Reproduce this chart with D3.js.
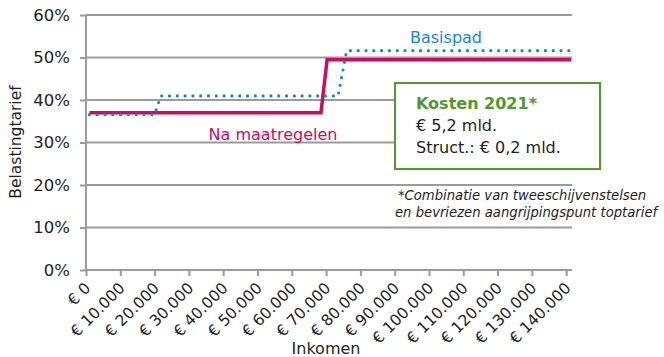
<!DOCTYPE html>
<html>
<head>
<meta charset="utf-8">
<script src="https://cdn.jsdelivr.net/npm/d3@7"></script>
<style>
  html, body { margin: 0; padding: 0; background: #fff; }
  svg { display: block; font-family: "DejaVu Sans", Verdana, sans-serif; }
</style>
</head>
<body>
<svg id="chart" width="664" height="357"></svg>
<script>
// Income ticks (euro) and rate ticks
const incomeTicks = [0, 10000, 20000, 30000, 40000, 50000, 60000, 70000, 80000, 90000, 100000, 110000, 120000, 130000, 140000];
const rateTicks = [0, 0.1, 0.2, 0.3, 0.4, 0.5, 0.6];

// Tax rate by income: after measures
const naMaatregelenIncome = [1000, 68500, 70300, 141500];
const naMaatregelenRate   = [0.37, 0.37, 0.495, 0.495];

// Tax rate by income: baseline path
const basispadIncome = [1000, 20000, 21800, 73500, 76000, 141500];
const basispadRate   = [0.3655, 0.3655, 0.4095, 0.4095, 0.516, 0.516];

const boxLines = ["Kosten 2021*", "€ 5,2 mld.", "Struct.: € 0,2 mld."];
const noteLines = ["*Combinatie van tweeschijvenstelsen", "en bevriezen aangrijpingspunt toptarief"];

const svg = d3.select("#chart");
const grey = "#9b9b9b";
const magenta = "#cc0a64";
const blue = "#1187d6";
const green = "#4f9a2a";
const ink = "#1e1e1e";

const x = d3.scaleLinear().domain([0, 141700]).range([86, 572]);
const y = d3.scaleLinear().domain([0, 0.6]).range([270, 15]);

// horizontal gridlines
svg.append("g").selectAll("line").data(rateTicks.filter(d => d > 0)).join("line")
  .attr("x1", x(0)).attr("x2", x.range()[1])
  .attr("y1", d => y(d)).attr("y2", d => y(d))
  .attr("stroke", grey).attr("stroke-width", 2);

// y axis
const yAxis = svg.append("g").attr("transform", `translate(${x(0)},0)`)
  .call(d3.axisLeft(y).tickValues(rateTicks).tickFormat(d3.format(".0%")).tickSize(6).tickPadding(10));
yAxis.select(".domain").attr("stroke", grey).attr("stroke-width", 2).attr("d", `M0,${y(0)}V${y(0.6)}`);
yAxis.selectAll(".tick line").attr("stroke", grey).attr("stroke-width", 2);
yAxis.selectAll(".tick text").attr("font-size", 16.5).attr("fill", ink)
  .attr("font-family", "DejaVu Sans, Verdana, sans-serif");

// x axis
const xAxis = svg.append("g").attr("transform", `translate(0,${y(0)})`)
  .call(d3.axisBottom(x).tickValues(incomeTicks).tickSize(6)
    .tickFormat(d => "€ " + d3.format(",")(d).replace(/,/g, ".")));
xAxis.select(".domain").attr("stroke", grey).attr("stroke-width", 2).attr("d", `M${x(0)},0H${x.range()[1]}`);
xAxis.selectAll(".tick line").attr("stroke", grey).attr("stroke-width", 2);
xAxis.selectAll(".tick text")
  .attr("font-size", 15.5).attr("fill", ink)
  .attr("font-family", "DejaVu Sans, Verdana, sans-serif")
  .attr("text-anchor", "end")
  .attr("dy", null).attr("y", 0)
  .attr("transform", "translate(5,19) rotate(-45)");

// axis titles
svg.append("text").attr("transform", "translate(21,142) rotate(-90)")
  .attr("text-anchor", "middle").attr("font-size", 15.5).attr("fill", ink).text("Belastingtarief");
svg.append("text").attr("x", 326).attr("y", 354)
  .attr("text-anchor", "middle").attr("font-size", 16).attr("fill", ink).text("Inkomen");

// series lines
const line = d3.line().x(d => x(d[0])).y(d => y(d[1]));
svg.append("path").datum(d3.zip(naMaatregelenIncome, naMaatregelenRate))
  .attr("d", line).attr("fill", "none").attr("stroke", magenta).attr("stroke-width", 3.5);
svg.append("path").datum(d3.zip(basispadIncome, basispadRate))
  .attr("d", line).attr("fill", "none").attr("stroke", blue).attr("stroke-width", 3.2)
  .attr("stroke-linecap", "round").attr("stroke-dasharray", "0 7.8");

// series labels
svg.append("text").attr("x", 446).attr("y", 43).attr("text-anchor", "middle")
  .attr("font-size", 16).attr("fill", blue).text("Basispad");
svg.append("text").attr("x", 273).attr("y", 140).attr("text-anchor", "middle")
  .attr("font-size", 16).attr("fill", magenta).text("Na maatregelen");

// cost box
svg.append("rect").attr("x", 395).attr("y", 83).attr("width", 205).attr("height", 86)
  .attr("fill", "#fff").attr("stroke", green).attr("stroke-width", 2);
svg.append("g").selectAll("text").data(boxLines).join("text")
  .attr("x", 416).attr("y", (d, i) => 109 + i * 22)
  .attr("font-size", 16)
  .attr("font-weight", (d, i) => i === 0 ? "bold" : "normal")
  .attr("fill", (d, i) => i === 0 ? green : ink)
  .text(d => d);

// footnote
svg.append("g").selectAll("text").data(noteLines).join("text")
  .attr("x", (d, i) => i === 0 ? 398 : 395).attr("y", (d, i) => 200 + i * 16.5)
  .attr("font-size", 13.2).attr("font-style", "italic").attr("fill", ink)
  .text(d => d);
</script>
</body>
</html>
